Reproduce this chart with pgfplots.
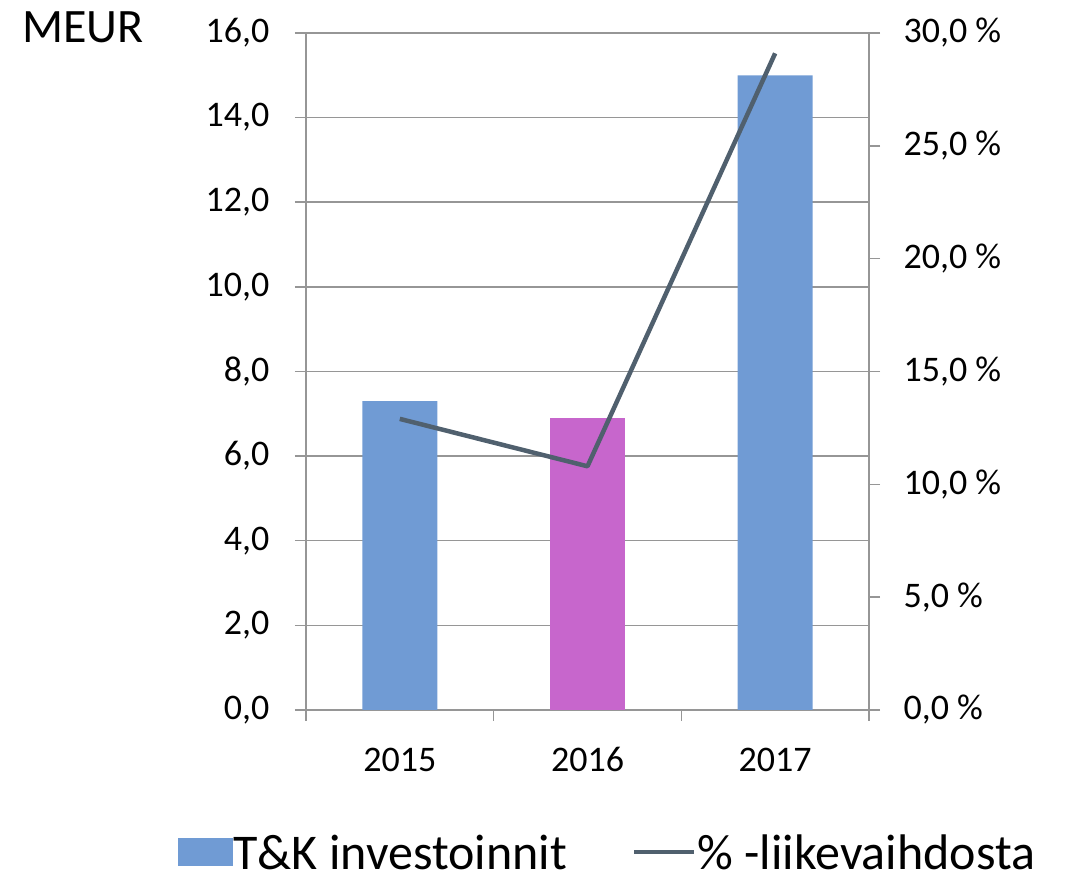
\documentclass[border=0pt]{standalone}
\usepackage{fontspec}
\setmainfont{Carlito}
\usepackage{pgfplots}
\pgfplotsset{compat=1.18}
\definecolor{barblue}{RGB}{112,155,212}
\definecolor{barmag}{RGB}{199,102,204}
\definecolor{linec}{RGB}{80,96,110}
\definecolor{axgray}{RGB}{150,150,150}
\begin{document}
\begin{tikzpicture}[x=1pt,y=1pt]
\useasboundingbox (-306,-170) rectangle (765,710);
\begin{axis}[
  at={(0,0)}, anchor=south west,
  scale only axis, width=563pt, height=677pt,
  xmin=-0.5, xmax=2.5, ymin=0, ymax=16,
  axis x line*=bottom, axis y line*=left,
  x axis line style={-, axgray, line width=1.5pt},
  y axis line style={-, axgray, line width=1.5pt},
  tick align=outside,
  major tick length=11pt,
  ytick={0,2,...,16},
  yticklabels={{0,0},{2,0},{4,0},{6,0},{8,0},{10,0},{12,0},{14,0},{16,0}},
  ymajorgrids,
  grid style={axgray, line width=1.5pt},
  tick style={axgray, line width=1.5pt},
  xtick={-0.5,0.5,1.5,2.5},
  xticklabels={},
  extra x ticks={0,1,2},
  extra x tick labels={2015,2016,2017},
  extra x tick style={major tick length=0pt, xticklabel style={text height=26pt, text depth=0pt, yshift=-32pt}},
  tick label style={font=\fontsize{36}{43}\selectfont, text=black},
  yticklabel style={xshift=-22pt},
  /pgf/number format/assume math mode=true,
  ybar, bar width=75pt, bar shift=0pt,
  clip=false,
]
\addplot[fill=barblue, draw=none] coordinates {(0,7.3) (2,15.0)};
\addplot[fill=barmag, draw=none] coordinates {(1,6.9)};
\end{axis}
\begin{axis}[
  at={(0,0)}, anchor=south west,
  scale only axis, width=563pt, height=677pt,
  xmin=-0.5, xmax=2.5, ymin=0, ymax=30,
  axis y line*=right, axis x line=none,
  y axis line style={-, axgray, line width=1.5pt},
  tick align=outside,
  major tick length=11pt,
  ytick={0,5,...,30},
  yticklabels={{0,0 \%},{5,0 \%},{10,0 \%},{15,0 \%},{20,0 \%},{25,0 \%},{30,0 \%}},
  tick style={axgray, line width=1.5pt},
  tick label style={font=\fontsize{36}{43}\selectfont, text=black},
  yticklabel style={xshift=20pt},
  /pgf/number format/assume math mode=true,
  legend columns=2,
  legend style={draw=none, fill=none, at={(0.535,-0.210)}, anchor=center,
    font=\fontsize{50}{58}\selectfont, inner sep=0pt,
    nodes={inner sep=1pt, text depth=0pt},
    /tikz/every even column/.append style={column sep=64pt}},
  clip=false,
]
\addlegendimage{legend image code/.code={\fill[barblue] (0pt,-13pt) rectangle (54pt,14pt);}}
\addlegendentry{T\&K investoinnit}
\addplot[linec, line width=4.5pt, line join=round,
  legend image code/.code={\draw[linec, line width=4.5pt] (0pt,0pt) -- (60pt,0pt);}]
  coordinates {(0,12.9) (1,10.8) (2,29.1)};
\addlegendentry{\% -liikevaihdosta}
\end{axis}
\node[anchor=base west, font=\fontsize{48}{58}\selectfont, inner sep=0pt] at (-284,667) {MEUR};
\end{tikzpicture}
\end{document}
